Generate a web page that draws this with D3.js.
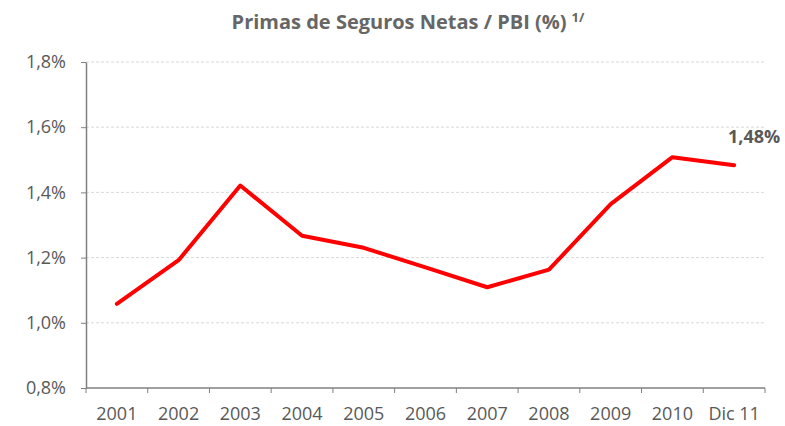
<!DOCTYPE html>
<html>
<head>
<meta charset="utf-8">
<script src="https://cdn.jsdelivr.net/npm/d3@7"></script>
<style>
  body { margin: 0; background: #fff; }
  svg text { font-family: "Open Sans", "DejaVu Sans", sans-serif; fill: #595959; }
</style>
</head>
<body>
<div id="chart"></div>
<script>
const CATEGORIES = ["2001", "2002", "2003", "2004", "2005", "2006", "2007", "2008", "2009", "2010", "Dic 11"];
const VALUES     = [1.058, 1.192, 1.421, 1.267, 1.230, 1.170, 1.109, 1.163, 1.364, 1.508, 1.483];
const Y_TICKS    = [0.8, 1.0, 1.2, 1.4, 1.6, 1.8];
const TITLE      = "Primas de Seguros Netas / PBI (%)";
const LAST_LABEL = "1,48%";

const W = 785, H = 426;
const MARGIN = { top: 62, right: 20, bottom: 38, left: 86 };

const svg = d3.select("#chart").append("svg")
  .attr("width", W).attr("height", H);

const x = d3.scaleBand()
  .domain(CATEGORIES)
  .range([MARGIN.left, W - MARGIN.right]);

const y = d3.scaleLinear()
  .domain([0.8, 1.8])
  .range([H - MARGIN.bottom, MARGIN.top]);

const fmt = v => v.toFixed(1).replace(".", ",") + "%";

// gridlines
svg.append("g")
  .selectAll("line")
  .data(Y_TICKS.slice(1))
  .join("line")
  .attr("x1", MARGIN.left).attr("x2", W - MARGIN.right)
  .attr("y1", d => y(d)).attr("y2", d => y(d))
  .attr("stroke", "#d9d9d9")
  .attr("stroke-dasharray", "3,2");

// y axis
const yAxis = svg.append("g")
  .attr("transform", `translate(${MARGIN.left},0)`)
  .call(d3.axisLeft(y).tickValues(Y_TICKS).tickFormat(fmt).tickSize(5).tickSizeOuter(0));
yAxis.select(".domain").attr("stroke", "#808080").attr("stroke-width", 1.5);
yAxis.selectAll(".tick line").attr("stroke", "#808080");
yAxis.selectAll(".tick text").attr("x", -20).style("font-size", "18px").style("fill", "#595959");

// x axis: ticks at band edges
const xAxisG = svg.append("g")
  .attr("transform", `translate(0,${H - MARGIN.bottom})`);
xAxisG.append("line")
  .attr("x1", MARGIN.left).attr("x2", W - MARGIN.right)
  .attr("stroke", "#808080").attr("stroke-width", 1.5);
xAxisG.selectAll(".edge")
  .data(CATEGORIES.concat(["end"]))
  .join("line")
  .attr("x1", (d, i) => i < CATEGORIES.length ? x(d) : x.range()[1])
  .attr("x2", (d, i) => i < CATEGORIES.length ? x(d) : x.range()[1])
  .attr("y2", 5)
  .attr("stroke", "#808080");
xAxisG.selectAll(".lbl")
  .data(CATEGORIES)
  .join("text")
  .attr("x", d => x(d) + x.bandwidth() / 2)
  .attr("y", 32)
  .attr("text-anchor", "middle")
  .style("font-size", "18px")
  .text(d => d);

// line
const line = d3.line()
  .x((d, i) => x(CATEGORIES[i]) + x.bandwidth() / 2)
  .y(d => y(d));

svg.append("path")
  .datum(VALUES)
  .attr("fill", "none")
  .attr("stroke", "#ff0000")
  .attr("stroke-width", 4)
  .attr("stroke-linejoin", "round")
  .attr("stroke-linecap", "round")
  .attr("d", line);

// last value label
const lastI = VALUES.length - 1;
svg.append("text")
  .attr("x", x(CATEGORIES[lastI]) + x.bandwidth() / 2 + 20)
  .attr("y", y(VALUES[lastI]) - 22)
  .attr("text-anchor", "middle")
  .style("font-size", "18px")
  .style("font-weight", "bold")
  .text(LAST_LABEL);

// title
const title = svg.append("text")
  .attr("x", 408)
  .attr("y", 29)
  .attr("text-anchor", "middle")
  .style("font-size", "20px")
  .style("font-weight", "bold")
  .style("fill", "#666");
title.append("tspan").text(TITLE);
title.append("tspan")
  .attr("dx", 5).attr("dy", -7)
  .style("font-size", "13px")
  .text("1/");
</script>
</body>
</html>
